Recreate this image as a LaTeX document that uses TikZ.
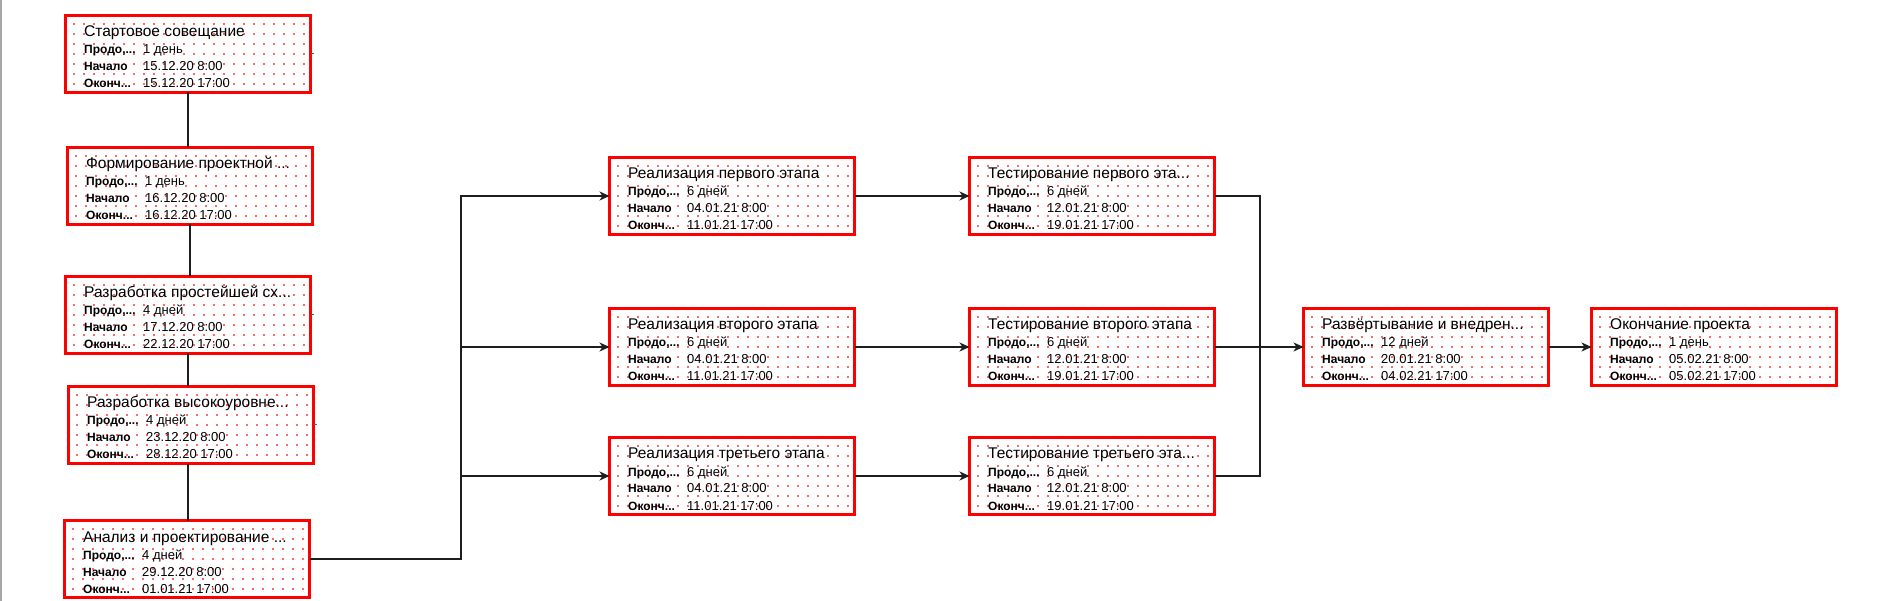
\documentclass[tikz,border=0pt]{standalone}
\usepackage{fontspec}
\setmainfont{Liberation Sans}
\usetikzlibrary{arrows.meta,calc}
\definecolor{boxred}{RGB}{255,0,0}
\definecolor{dotred}{RGB}{255,105,105}
\definecolor{linegray}{RGB}{30,30,30}
\definecolor{pagegray}{RGB}{165,165,170}
\tikzset{
  taskbox/.style={draw=boxred, line width=3pt, fill=white, rectangle,
    minimum width=245pt, minimum height=77pt, inner sep=0pt, outer sep=0pt,
    anchor=north west,
    path picture={
      \foreach \i in {8.5,18.5,...,238.5}{
        \foreach \j in {8.5,18.5,...,68.5}{
          \fill[dotred] ([shift={(\i-0.6,\j-0.6)}]path picture bounding box.north west) rectangle ++(1.3,1.3);
        }
      }
    }},
  tasktitle/.style={anchor=base west, inner sep=0pt, text=black, font=\fontsize{15.5}{15.5}\selectfont},
  tasklabel/.style={anchor=base west, inner sep=0pt, text=black, font=\bfseries\fontsize{12}{12}\selectfont},
  taskvalue/.style={anchor=base west, inner sep=0pt, text=black, font=\fontsize{13}{13}\selectfont},
  link/.style={draw=linegray, line width=1.3pt},
  arr/.style={link, -{Stealth[length=10pt,width=9pt,inset=3pt]}},
  stub/.style={draw=linegray!70, line width=1pt},
}
\newcommand\tasknode[7]{%
  \node[taskbox] (#1) at (#2+1.5,#3+1.5) {};
  \node[tasktitle] (#1-t) at ([shift={(18.5,21.5)}]#1.north west) {#4};
  \node[tasklabel] (#1-l1) at ([shift={(18.5,38.5)}]#1.north west) {Продо,...};
  \node[taskvalue] (#1-v1) at ([shift={(77.5,38.5)}]#1.north west) {#5};
  \node[tasklabel] (#1-l2) at ([shift={(18.5,55.5)}]#1.north west) {Начало};
  \node[taskvalue] (#1-v2) at ([shift={(77.5,55.5)}]#1.north west) {#6};
  \node[tasklabel] (#1-l3) at ([shift={(18.5,72.5)}]#1.north west) {Оконч...};
  \node[taskvalue] (#1-v3) at ([shift={(77.5,72.5)}]#1.north west) {#7};
}
\begin{document}
\begin{tikzpicture}[x=1pt,y=-1pt]
\useasboundingbox[fill=white] (0,0) rectangle (1888,601);
\draw[pagegray, line width=2pt] (1,0) -- (1,601);

\tasknode{n1}{64}{14}{Стартовое совещание}{1 день}{15.12.20 8:00}{15.12.20 17:00}
\tasknode{n2}{66}{146}{Формирование проектной ...}{1 день}{16.12.20 8:00}{16.12.20 17:00}
\tasknode{n3}{64}{275}{Разработка простейшей сх...}{4 дней}{17.12.20 8:00}{22.12.20 17:00}
\tasknode{n4}{67}{385}{Разработка высокоуровне...}{4 дней}{23.12.20 8:00}{28.12.20 17:00}
\tasknode{n5}{63}{519}{Анализ и проектирование ...}{4 дней}{29.12.20 8:00}{01.01.21 17:00}

\tasknode{r1}{608}{156}{Реализация первого этапа}{6 дней}{04.01.21 8:00}{11.01.21 17:00}
\tasknode{r2}{608}{307}{Реализация второго этапа}{6 дней}{04.01.21 8:00}{11.01.21 17:00}
\tasknode{r3}{608}{436}{Реализация третьего этапа}{6 дней}{04.01.21 8:00}{11.01.21 17:00}

\tasknode{t1}{968}{156}{Тестирование первого эта...}{6 дней}{12.01.21 8:00}{19.01.21 17:00}
\tasknode{t2}{968}{307}{Тестирование второго этапа}{6 дней}{12.01.21 8:00}{19.01.21 17:00}
\tasknode{t3}{968}{436}{Тестирование третьего эта...}{6 дней}{12.01.21 8:00}{19.01.21 17:00}

\tasknode{d}{1302}{307}{Развёртывание и внедрен...}{12 дней}{20.01.21 8:00}{04.02.21 17:00}
\tasknode{e}{1590}{307}{Окончание проекта}{1 день}{05.02.21 8:00}{05.02.21 17:00}

% left chain
\draw[link] (n1.south) -- (n1.south |- n2.north);
\draw[link] (n2.south) -- (n2.south |- n3.north);
\draw[link] (n3.south) -- (n3.south |- n4.north);
\draw[link] (n3.south |- n4.south) -- (n3.south |- n5.north);

% small stubs
\draw[stub] (n1.east) -- ++(3,0);
\draw[stub] (n3.east) -- ++(3,0);
\draw[stub] (n4.east) -- ++(3,0);

% fork
\coordinate (fork) at (461,0);
\draw[arr] (n5.east) -| (fork |- r1.west) -- (r1.west);
\draw[arr] (fork |- r2.west) -- (r2.west);
\draw[arr] (fork |- r3.west) -- (r3.west);

\draw[arr] (r1.east) -- (t1.west);
\draw[arr] (r2.east) -- (t2.west);
\draw[arr] (r3.east) -- (t3.west);

% join
\coordinate (join) at (1260,0);
\draw[link] (t1.east) -| (join |- d.west);
\draw[link] (t3.east) -| (join |- d.west);
\draw[arr] (t2.east) -- (d.west);

\draw[arr] (d.east) -- (e.west);
\end{tikzpicture}
\end{document}
